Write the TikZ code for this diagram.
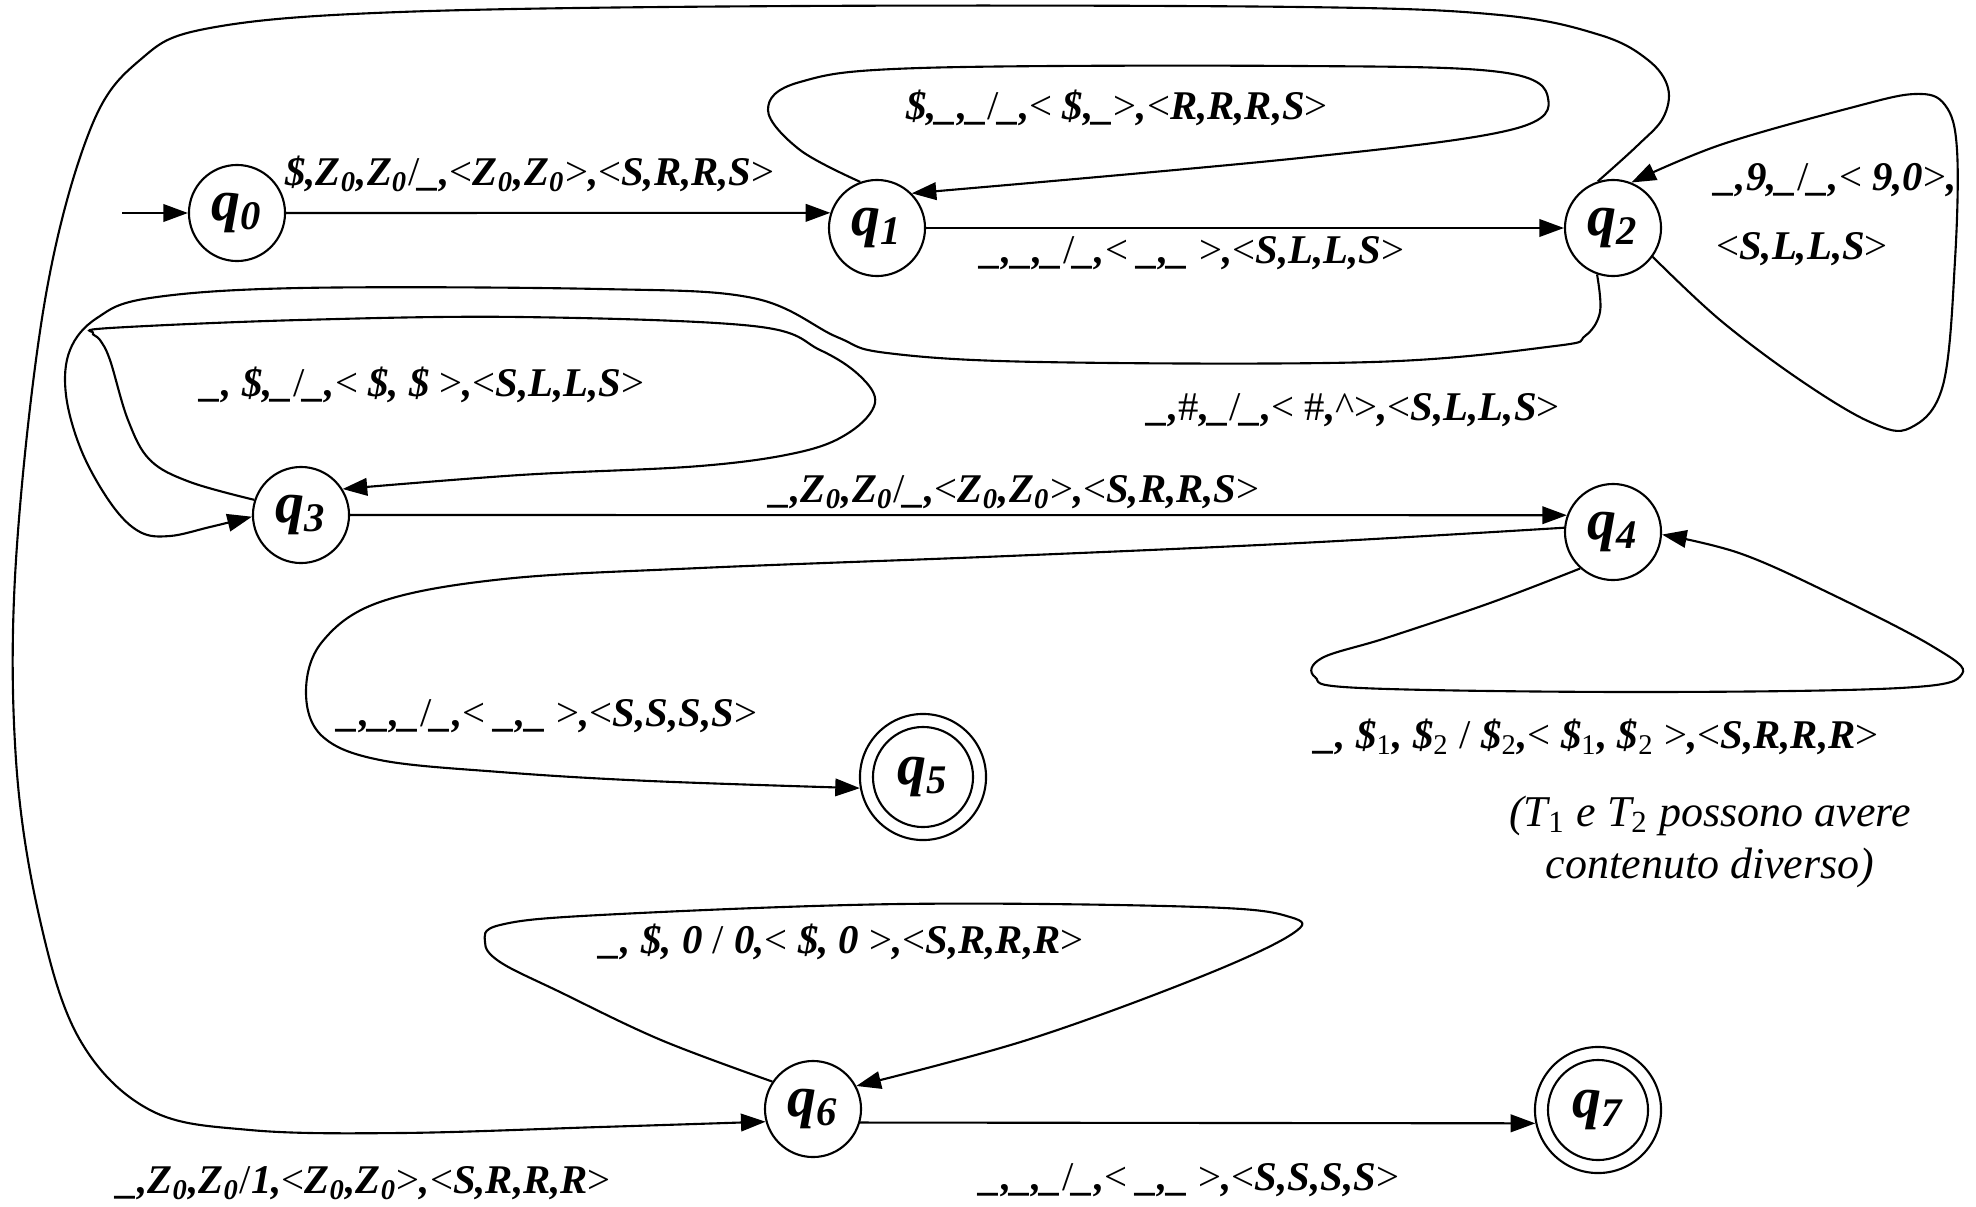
\documentclass[tikz,border=0pt]{standalone}
\usepackage{fontspec}
\setmainfont{Liberation Serif}
\usetikzlibrary{arrows.meta}
\newcommand\sy[1]{{\mdseries\upshape #1}}
\newcommand\Zz{Z\textsubscript{0}}
\newcommand\qlab[1]{q\textsubscript{#1}}
\begin{document}
\begin{tikzpicture}[x=0.01cm,y=-0.01cm,
  st/.style={circle,draw,line width=0.6pt,minimum size=0.96cm,inner sep=0pt,
    font=\fontsize{16.5}{18}\selectfont\bfseries\itshape},
  acc/.style={st,minimum size=1.26cm},
  accin/.style={circle,draw,line width=0.6pt,minimum size=1.0cm,inner sep=0pt},
  lbl/.style={font=\fontsize{11.6}{14}\selectfont\bfseries\itshape,inner sep=0pt},
  note/.style={font=\fontsize{12.5}{15}\selectfont\itshape,inner sep=0pt,align=center},
  edge/.style={line width=0.6pt,-{Triangle[length=7pt,width=5pt]}},
  curve/.style={edge,smooth,tension=0.6}]
\useasboundingbox (0,0) rectangle (1976,1206);

% states
\node[st] (q0) at (237,213) {\qlab{0}};
\node[st] (q1) at (877,228) {\qlab{1}};
\node[st] (q2) at (1613,228) {\qlab{2}};
\node[st] (q3) at (301,515) {\qlab{3}};
\node[st] (q4) at (1613,532) {\qlab{4}};
\node[acc] (q5) at (923,777) {\qlab{5}};
\node[accin] (q5i) at (q5) {};
\node[st] (q6) at (813,1109) {\qlab{6}};
\node[acc] (q7) at (1598,1110) {\qlab{7}};
\node[accin] (q7i) at (q7) {};

\coordinate (init) at (122,213);

% straight transitions
\draw[edge] (init) -- (q0.west);
\draw[edge] (q0.east) -- (q1.162);
\draw[edge] (q1.east) -- (q2.west);
\draw[edge] (q3.east) -- (q4.160);
\draw[edge] (q6.-16) -- (q7.192);

% q1 self loop
\draw[curve] plot coordinates {(q1.110) (800,150) (768,110) (800,82) (920,68)
  (1300,66) (1500,72) (1548,98) (1510,130) (1300,158) (q1.45)};

% q2 self loop
\draw[curve] plot coordinates {(q2.-36) (1720,320) (1800,380) (1870,422) (1910,428)
  (1943,385) (1955,260) (1957,150) (1945,105) (1915,94) (1850,108) (1720,145) (q2.68)};

% q2 -> q6 big loop
\draw[curve] plot coordinates {(q2.108) (1638,145) (1663,118) (1668,88) (1648,60)
  (1600,35) (1500,15) (1300,7) (800,6) (400,12) (210,28) (140,60) (90,130)
  (45,300) (16,560) (16,760) (40,920) (80,1040) (150,1110) (250,1130) (400,1133)
  (600,1127) (q6.195)};

% q2 -> q3
\draw[curve] plot coordinates {(q2.-109) (1600,312) (1585,336) (1555,346) (1373,362)
  (1040,362) (887,353) (837,337) (753,298) (600,289) (300,288) (150,298) (97,318)
  (70,350) (66,395) (82,452) (112,505) (140,532) (170,536) (210,527) (q3.182)};

% q3 self loop
\draw[curve] plot coordinates {(q3.162) (190,482) (150,460) (128,420) (110,360)
  (100,340) (93,333) (110,328) (300,320) (520,317) (753,326) (820,350) (860,376)
  (875,403) (850,432) (800,452) (700,466) (520,475) (q3.32)};

% q4 -> q5
\draw[curve] plot coordinates {(q4.175) (1300,543) (1008,556) (700,568) (504,579)
  (380,602) (322,642) (306,692) (322,736) (380,760) (500,772) (650,781) (q5.190)};

% q4 self loop
\draw[curve] plot coordinates {(q4.228) (1490,603) (1386,638) (1322,658) (1315,677)
  (1361,688) (1638,692) (1900,688) (1962,674) (1932,646) (1827,592) (1739,553) (q4.-3)};

% q6 self loop
\draw[curve] plot coordinates {(q6.146) (661,1040) (560,992) (500,962) (485,942)
  (500,925) (600,915) (900,904) (1200,907) (1290,917) (1292,934) (1200,977)
  (1027,1040) (q6.28)};

% labels
\node[lbl] (l01) at (530,174) {\$,\Zz,\Zz\sy{/}\_,\sy{<}\Zz,\Zz\sy{>},\sy{<}S,R,R,S\sy{>}};
\node[lbl] (l11) at (1117,108) {\$,\_,\_\sy{/}\_,\sy{<} \$,\_\sy{>},\sy{<}R,R,R,S\sy{>}};
\node[lbl] (l12) at (1193,253) {\_,\_,\_\sy{/}\_,\sy{<} \_,\_ \sy{>},\sy{<}S,L,L,S\sy{>}};
\node[lbl] (l22a) at (1836,180) {\_,9,\_\sy{/}\_,\sy{<} 9,0\sy{>},};
\node[lbl] (l22b) at (1802,249) {\sy{<}S,L,L,S\sy{>}};
\node[lbl] (l23) at (1354,410) {\_,\sy{\#},\_\sy{/}\_,\sy{<} \sy{\#},\sy{\textasciicircum}\sy{>},\sy{<}S,L,L,S\sy{>}};
\node[lbl] (l33) at (423,385) {\_, \$,\_\sy{/}\_,\sy{<} \$, \$ \sy{>},\sy{<}S,L,L,S\sy{>}};
\node[lbl] (l34) at (1015,492) {\_,\Zz,\Zz\sy{/}\_,\sy{<}\Zz,\Zz\sy{>},\sy{<}S,R,R,S\sy{>}};
\node[lbl] (l45) at (548,716) {\_,\_,\_\sy{/}\_,\sy{<} \_,\_ \sy{>},\sy{<}S,S,S,S\sy{>}};
\node[lbl] (l44) at (1597,737) {\_, \$\sy{\textsubscript{1}}, \$\sy{\textsubscript{2}} \sy{/} \$\sy{\textsubscript{2}},\sy{<} \$\sy{\textsubscript{1}}, \$\sy{\textsubscript{2}} \sy{>},\sy{<}S,R,R,R\sy{>}};
\node[note] (nt) at (1710,842) {(T\sy{\textsubscript{1}} e T\sy{\textsubscript{2}} possono avere\\contenuto diverso)};
\node[lbl] (l66) at (842,942) {\_, \$, 0 \sy{/} 0,\sy{<} \$, 0 \sy{>},\sy{<}S,R,R,R\sy{>}};
\node[lbl] (l26) at (364,1183) {\_,\Zz,\Zz\sy{/}1,\sy{<}\Zz,\Zz\sy{>},\sy{<}S,R,R,R\sy{>}};
\node[lbl] (l67) at (1190,1180) {\_,\_,\_\sy{/}\_,\sy{<} \_,\_ \sy{>},\sy{<}S,S,S,S\sy{>}};
\end{tikzpicture}
\end{document}
